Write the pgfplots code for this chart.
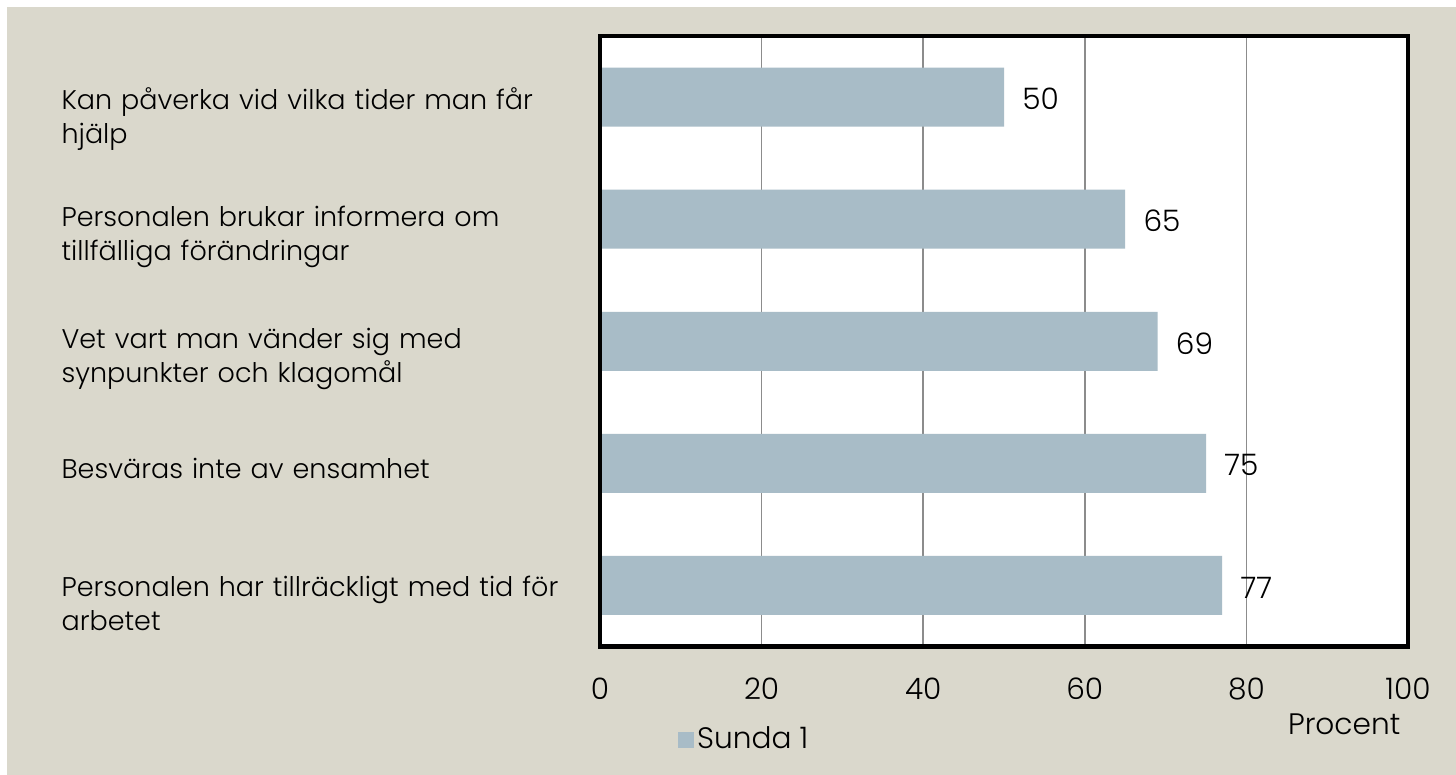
\documentclass[border=0pt]{standalone}
\usepackage{pgfplots}
\pgfplotsset{compat=1.18}
\usepackage{fontspec}
\setmainfont{Poppins Light}
\definecolor{bg}{HTML}{DAD8CC}
\definecolor{barc}{HTML}{A8BCC7}
\definecolor{gridc}{HTML}{8C8C8C}
\begin{document}
\begin{tikzpicture}
\fill[white] (0,0) rectangle (728pt,387.5pt);
\fill[bg] (3.5pt,0) rectangle (728pt,384pt);
\begin{axis}[
  at={(300pt,64.25pt)}, anchor=south west,
  scale only axis, width=404pt, height=305.25pt,
  clip=false,
  xbar, bar width=29.5pt,
  xmin=0, xmax=100, ymin=-0.5, ymax=4.5, y dir=reverse,
  xtick={0,20,40,60,80,100},
  ytick={0,1,2,3,4},
  yticklabels={{Kan påverka vid vilka tider man får\\hjälp},
               {Personalen brukar informera om\\tillfälliga förändringar},
               {Vet vart man vänder sig med\\synpunkter och klagomål},
               {Besväras inte av ensamhet},
               {Personalen har tillräckligt med tid för\\arbetet}},
  yticklabel style={anchor=east, text width=269pt, align=left, inner sep=0pt,
    font=\fontsize{13.5}{17}\selectfont,
    yshift={ifthenelse(\ticknum==3,-2.5,ifthenelse(\ticknum==0,-11,-9))*1pt}},
  xticklabel style={inner sep=0pt, yshift=-15.5pt, font=\fontsize{14.8}{17}\selectfont},
  tick style={draw=none}, major tick length=0pt,
  /pgf/number format/assume math mode=true,
  axis line style={draw=none},
  axis background/.style={fill=white},
  xmajorgrids, grid style={gridc, line width=0.75pt},
  nodes near coords,
  every node near coord/.append style={anchor=west, inner sep=0pt, xshift=9pt, yshift=-1pt,
    font=\fontsize{14.8}{17}\selectfont, text=black},
  legend style={at={(axis description cs:0.0963,0)}, anchor=west, yshift=-46.5pt,
    draw=none, fill=none, inner sep=0pt, font=\fontsize{14.8}{17}\selectfont,
    nodes={inner sep=1.5pt}},
  legend image code/.code={\fill[#1] (0pt,-4pt) rectangle (8pt,4pt);},
]
\addplot[fill=barc, draw=none] coordinates {(50,0) (65,1) (69,2) (75,3) (77,4)};
\addlegendentry{Sunda 1}
\draw[line width=2.2pt, line join=miter] (rel axis cs:0,0) rectangle (rel axis cs:1,1);
\node[font=\fontsize{14.8}{17}\selectfont, anchor=center] at (axis description cs:0.921,0) [yshift=-39pt] {Procent};
\end{axis}
\pgfresetboundingbox
\path[use as bounding box] (0,0) rectangle (728pt,387.5pt);
\end{tikzpicture}
\end{document}
